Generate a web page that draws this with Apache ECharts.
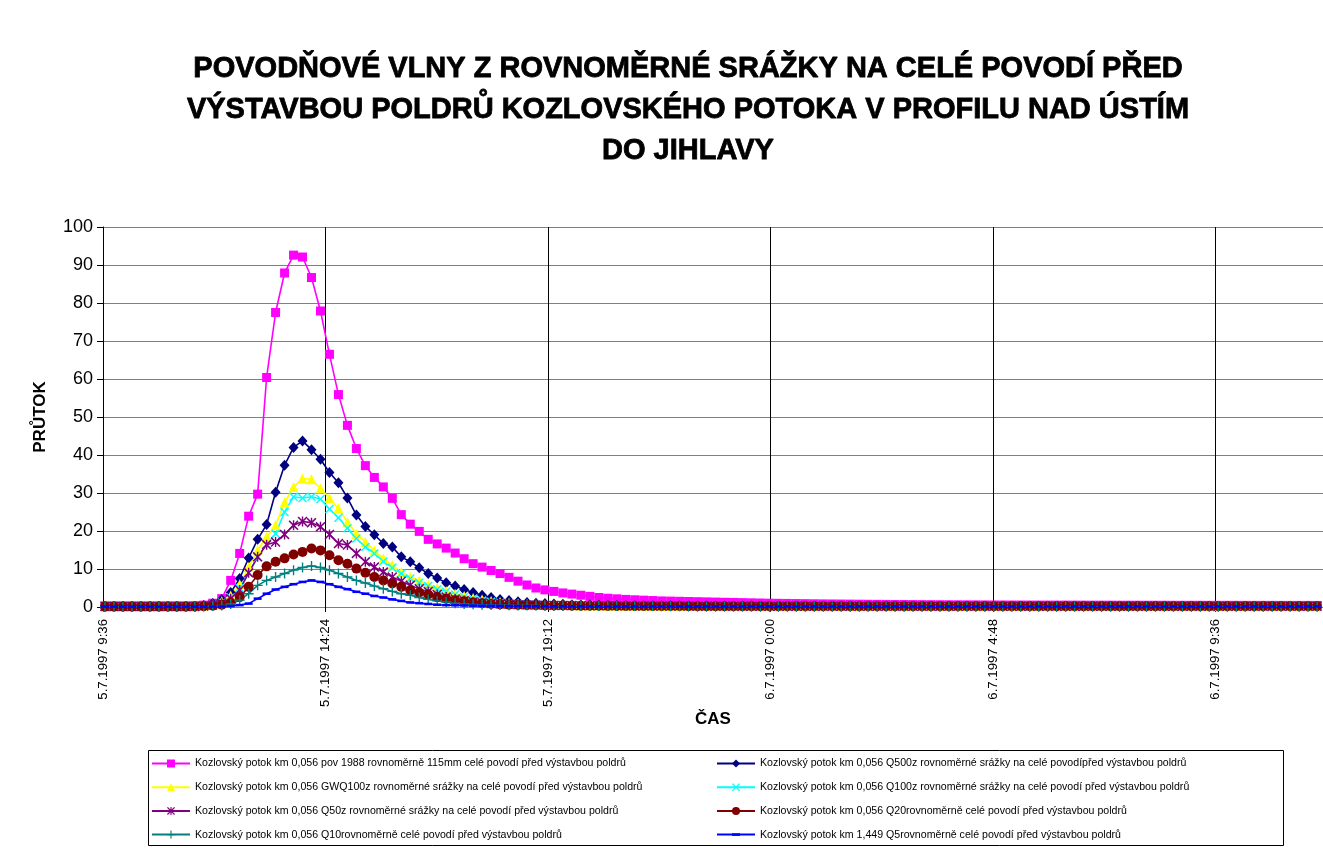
<!DOCTYPE html>
<html>
<head>
<meta charset="utf-8">
<title>Povodňové vlny</title>
<script src="https://cdn.jsdelivr.net/npm/echarts@6/dist/echarts.min.js"></script>
<style>
html, body { margin: 0; padding: 0; background: #fff; }
#chart { width: 1323px; height: 848px; }
</style>
</head>
<body>
<div id="chart"></div>
<script>
// čas v minutách od 5.7.1997 0:00, krok měření
var startMin = 578.6;
var stepMin = 11.62;

var axisMin = 576;     // 5.7.1997 9:36
var axisStep = 288;    // 4:48
var axisMax = 2155;

var names = [
	'Kozlovský potok km 0,056 pov 1988 rovnoměrně 115mm celé povodí před výstavbou poldrů',
	'Kozlovský potok km 0,056 Q500z rovnoměrné srážky na celé povodípřed výstavbou poldrů',
	'Kozlovský potok km 0,056 GWQ100z rovnoměrné srážky na celé povodí před výstavbou poldrů',
	'Kozlovský potok km 0,056 Q100z rovnoměrné srážky na celé povodí před výstavbou poldrů',
	'Kozlovský potok km 0,056 Q50z rovnoměrné srážky na celé povodí před výstavbou poldrů',
	'Kozlovský potok km 0,056 Q20rovnoměrně celé povodí před výstavbou poldrů',
	'Kozlovský potok km 0,056 Q10rovnoměrně celé povodí před výstavbou poldrů',
	'Kozlovský potok km 1,449 Q5rovnoměrně celé povodí před výstavbou poldrů'
];

var pov1988 = [
	0.3,0.3,0.3,0.3,0.3,0.3,0.3,0.3,0.3,0.3,
	0.35,0.5,1.0,2.2,7.0,14.1,23.9,29.7,60.4,77.5,
	87.9,92.6,92.1,86.7,77.9,66.5,55.9,47.8,41.7,37.2,
	34.1,31.6,28.6,24.3,21.8,19.9,17.8,16.6,15.5,14.2,
	12.7,11.4,10.5,9.6,8.8,7.8,6.8,5.8,5.0,4.5,
	4.1,3.7,3.4,3.1,2.8,2.5,2.3,2.15,2.0,1.9,
	1.8,1.7,1.6,1.55,1.5,1.45,1.4,1.35,1.3,1.25,
	1.2,1.15,1.1,1.05,1.0,0.97,0.94,0.91,0.88,0.85,
	0.82,0.8,0.78,0.76,0.74,0.72,0.7,0.68,0.66,0.65,
	0.64,0.62,0.61,0.6,0.59,0.58,0.57,0.56,0.55,0.54,
	0.53,0.52,0.52,0.51,0.51,0.5,0.5,0.5,0.49,0.49,
	0.48,0.48,0.48,0.47,0.47,0.47,0.46,0.46,0.46,0.45,
	0.45,0.45,0.45,0.44,0.44,0.44,0.44,0.43,0.43,0.43,
	0.43,0.42,0.42,0.42,0.42,0.41
];
var q500 = [
	0.1,0.1,0.1,0.1,0.1,0.1,0.1,0.1,0.1,0.1,
	0.15,0.4,0.9,2.0,3.8,7.5,12.9,17.8,21.7,30.2,
	37.3,42.0,43.7,41.4,38.9,35.4,32.7,28.7,24.2,21.2,
	19.0,16.7,15.8,13.2,11.9,10.3,8.8,7.6,6.4,5.5,
	4.6,3.8,3.1,2.5,2.0,1.7,1.4,1.2,1.0,0.9,
	0.8,0.7,0.6,0.55,0.5,0.45,0.42,0.4,0.38,0.36,
	0.34,0.33,0.32,0.31,0.3,0.29,0.28,0.27,0.26,0.25,
	0.25,0.24,0.24,0.23,0.23,0.22,0.22,0.21,0.21,0.2,
	0.2,0.2,0.2,0.2,0.2,0.2,0.2,0.2,0.2,0.2,
	0.2,0.2,0.2,0.2,0.2,0.2,0.2,0.2,0.2,0.2,
	0.2,0.2,0.2,0.2,0.2,0.2,0.2,0.2,0.2,0.2,
	0.2,0.2,0.2,0.2,0.2,0.2,0.2,0.2,0.2,0.2,
	0.2,0.2,0.2,0.2,0.2,0.2,0.2,0.2,0.2,0.2,
	0.2,0.2,0.2,0.2,0.2,0.2
];
var gwq100 = [
	0.1,0.1,0.1,0.1,0.1,0.1,0.1,0.1,0.1,0.1,
	0.12,0.3,0.7,1.5,3.0,6.0,10.5,15.0,18.4,21.5,
	27.5,31.6,33.8,33.6,31.2,28.7,25.9,22.4,19.3,17.1,
	14.9,12.8,11.0,9.2,7.9,6.9,5.9,5.0,4.2,3.5,
	2.9,2.4,2.0,1.6,1.3,1.1,0.9,0.8,0.7,0.6,
	0.55,0.5,0.45,0.42,0.4,0.38,0.36,0.34,0.32,0.31,
	0.3,0.29,0.28,0.27,0.26,0.25,0.25,0.24,0.24,0.23,
	0.23,0.22,0.22,0.21,0.21,0.2,0.2,0.2,0.2,0.2,
	0.2,0.2,0.2,0.2,0.2,0.2,0.2,0.2,0.2,0.2,
	0.2,0.2,0.2,0.2,0.2,0.2,0.2,0.2,0.2,0.2,
	0.2,0.2,0.2,0.2,0.2,0.2,0.2,0.2,0.2,0.2,
	0.2,0.2,0.2,0.2,0.2,0.2,0.2,0.2,0.2,0.2,
	0.2,0.2,0.2,0.2,0.2,0.2,0.2,0.2,0.2,0.2,
	0.2,0.2,0.2,0.2,0.2,0.2
];
var q100 = [
	0.1,0.1,0.1,0.1,0.1,0.1,0.1,0.1,0.1,0.1,
	0.12,0.3,0.6,1.2,2.5,5.0,9.0,13.0,16.5,19.3,
	25.0,29.0,28.7,29.0,28.4,25.8,23.5,20.7,18.0,15.8,
	14.1,12.0,10.3,8.8,7.5,6.4,5.5,4.7,4.0,3.3,
	2.6,2.1,1.7,1.4,1.1,0.9,0.8,0.7,0.6,0.55,
	0.5,0.45,0.42,0.4,0.38,0.36,0.34,0.32,0.31,0.3,
	0.29,0.28,0.27,0.26,0.25,0.25,0.24,0.24,0.23,0.23,
	0.22,0.22,0.21,0.21,0.2,0.2,0.2,0.2,0.2,0.2,
	0.2,0.2,0.2,0.2,0.2,0.2,0.2,0.2,0.2,0.2,
	0.2,0.2,0.2,0.2,0.2,0.2,0.2,0.2,0.2,0.2,
	0.2,0.2,0.2,0.2,0.2,0.2,0.2,0.2,0.2,0.2,
	0.2,0.2,0.2,0.2,0.2,0.2,0.2,0.2,0.2,0.2,
	0.2,0.2,0.2,0.2,0.2,0.2,0.2,0.2,0.2,0.2,
	0.2,0.2,0.2,0.2,0.2,0.2
];
var q50 = [
	0.1,0.1,0.1,0.1,0.1,0.1,0.1,0.1,0.1,0.1,
	0.12,0.25,0.5,1.0,2.2,4.5,9.0,13.2,16.4,17.1,
	19.1,21.5,22.5,22.2,21.1,19.1,16.7,16.3,14.1,11.9,
	10.5,9.2,7.9,6.8,5.7,4.8,4.1,3.3,2.6,2.1,
	1.7,1.4,1.1,0.9,0.8,0.7,0.6,0.55,0.5,0.45,
	0.42,0.4,0.38,0.36,0.34,0.32,0.31,0.3,0.29,0.28,
	0.27,0.26,0.25,0.25,0.24,0.24,0.23,0.23,0.22,0.22,
	0.21,0.21,0.2,0.2,0.2,0.2,0.2,0.2,0.2,0.2,
	0.2,0.2,0.2,0.2,0.2,0.2,0.2,0.2,0.2,0.2,
	0.2,0.2,0.2,0.2,0.2,0.2,0.2,0.2,0.2,0.2,
	0.2,0.2,0.2,0.2,0.2,0.2,0.2,0.2,0.2,0.2,
	0.2,0.2,0.2,0.2,0.2,0.2,0.2,0.2,0.2,0.2,
	0.2,0.2,0.2,0.2,0.2,0.2,0.2,0.2,0.2,0.2,
	0.2,0.2,0.2,0.2,0.2,0.2
];
var q20 = [
	0.1,0.1,0.1,0.1,0.1,0.1,0.1,0.1,0.1,0.1,
	0.12,0.2,0.35,0.6,1.2,2.6,5.3,8.4,10.7,11.9,
	12.8,13.8,14.5,15.4,14.9,13.6,12.3,11.4,10.1,9.0,
	7.9,7.0,6.2,5.3,4.4,3.8,3.3,2.6,2.2,1.8,
	1.5,1.2,1.0,0.8,0.7,0.6,0.55,0.5,0.45,0.42,
	0.4,0.38,0.36,0.34,0.32,0.31,0.3,0.29,0.28,0.27,
	0.26,0.25,0.25,0.24,0.24,0.23,0.23,0.22,0.22,0.21,
	0.21,0.2,0.2,0.2,0.2,0.2,0.2,0.2,0.2,0.2,
	0.2,0.2,0.2,0.2,0.2,0.2,0.2,0.2,0.2,0.2,
	0.2,0.2,0.2,0.2,0.2,0.2,0.2,0.2,0.2,0.2,
	0.2,0.2,0.2,0.2,0.2,0.2,0.2,0.2,0.2,0.2,
	0.2,0.2,0.2,0.2,0.2,0.2,0.2,0.2,0.2,0.2,
	0.2,0.2,0.2,0.2,0.2,0.2,0.2,0.2,0.2,0.2,
	0.2,0.2,0.2,0.2,0.2,0.2
];
var q10 = [
	0.1,0.1,0.1,0.1,0.1,0.1,0.1,0.1,0.1,0.1,
	0.1,0.15,0.25,0.4,0.8,1.8,3.5,5.7,7.0,7.9,
	8.8,9.7,10.4,10.8,10.4,9.7,8.8,7.9,7.0,6.3,
	5.5,4.8,4.1,3.5,3.1,2.5,2.0,1.6,1.3,1.0,
	0.8,0.7,0.6,0.55,0.5,0.45,0.42,0.4,0.38,0.36,
	0.34,0.32,0.31,0.3,0.29,0.28,0.27,0.26,0.25,0.25,
	0.24,0.24,0.23,0.23,0.22,0.22,0.21,0.21,0.2,0.2,
	0.2,0.2,0.2,0.2,0.2,0.2,0.2,0.2,0.2,0.2,
	0.2,0.2,0.2,0.2,0.2,0.2,0.2,0.2,0.2,0.2,
	0.2,0.2,0.2,0.2,0.2,0.2,0.2,0.2,0.2,0.2,
	0.2,0.2,0.2,0.2,0.2,0.2,0.2,0.2,0.2,0.2,
	0.2,0.2,0.2,0.2,0.2,0.2,0.2,0.2,0.2,0.2,
	0.2,0.2,0.2,0.2,0.2,0.2,0.2,0.2,0.2,0.2,
	0.2,0.2,0.2,0.2,0.2,0.2
];
var q5 = [
	0.1,0.1,0.1,0.1,0.1,0.1,0.1,0.1,0.1,0.1,
	0.1,0.1,0.12,0.15,0.25,0.5,0.9,2.2,3.5,4.6,
	5.3,6.0,6.6,7.0,6.6,6.0,5.3,4.7,4.0,3.5,
	2.9,2.5,2.0,1.6,1.2,1.0,0.8,0.6,0.5,0.45,
	0.4,0.36,0.33,0.3,0.28,0.26,0.24,0.22,0.2,0.2,
	0.18,0.18,0.17,0.17,0.16,0.16,0.15,0.15,0.15,0.15,
	0.15,0.15,0.15,0.15,0.15,0.15,0.15,0.15,0.15,0.15,
	0.15,0.15,0.15,0.15,0.15,0.15,0.15,0.15,0.15,0.15,
	0.15,0.15,0.15,0.15,0.15,0.15,0.15,0.15,0.15,0.15,
	0.15,0.15,0.15,0.15,0.15,0.15,0.15,0.15,0.15,0.15,
	0.15,0.15,0.15,0.15,0.15,0.15,0.15,0.15,0.15,0.15,
	0.15,0.15,0.15,0.15,0.15,0.15,0.15,0.15,0.15,0.15,
	0.15,0.15,0.15,0.15,0.15,0.15,0.15,0.15,0.15,0.15,
	0.15,0.15,0.15,0.15,0.15,0.15
];

var colors = ['#FF00FF', '#000080', '#FFFF00', '#00FFFF', '#800080', '#800000', '#008080', '#0000FF'];

// značky (Excel styl)
var xPath = 'path://M0,1.1 L1.1,0 L5,3.9 L8.9,0 L10,1.1 L6.1,5 L10,8.9 L8.9,10 L5,6.1 L1.1,10 L0,8.9 L3.9,5 Z';
var starPath = xPath + ' M4.3,0 L5.7,0 L5.7,10 L4.3,10 Z';
var plusPath = 'path://M4.3,0 H5.7 V4.3 H10 V5.7 H5.7 V10 H4.3 V5.7 H0 V4.3 H4.3 Z';
// krátká čárka uvnitř čtvercového rámce (aby zůstala čárkou i v legendě)
var dashPath = 'path://M0,0 L0,0 M0,3.4 H10 V6.6 H0 Z M10,10 L10,10';
var symbols = ['rect', 'diamond', 'triangle', xPath, starPath, 'circle', plusPath, dashPath];
var symbolSizes = [9, [10, 11], 10, 9, 10, 10, 10, 8];

var allValues = [pov1988, q500, gwq100, q100, q50, q20, q10, q5];

function pad(n) { return n < 10 ? '0' + n : '' + n; }
function fmtTime(v) {
	var d = Math.floor(v / 1440);
	var m = Math.round(v - d * 1440);
	return (5 + d) + '.7.1997 ' + Math.floor(m / 60) + ':' + pad(m % 60);
}

var series = [];
for (var s = 0; s < allValues.length; s++) {
	var pts = [];
	for (var i = 0; i < allValues[s].length; i++) {
		pts.push([startMin + i * stepMin, allValues[s][i]]);
	}
	series.push({
		name: names[s],
		type: 'line',
		data: pts,
		symbol: symbols[s],
		symbolSize: symbolSizes[s],
		showAllSymbol: true,
		lineStyle: { color: colors[s], width: 1.6 },
		itemStyle: { color: colors[s] },
		emphasis: { disabled: true }
	});
}

var legendText = { fontSize: 10.6, color: '#000', fontFamily: 'Liberation Sans, Arial, sans-serif' };

var myChart = echarts.init(document.getElementById('chart'));
var option = {
	animation: false,
	backgroundColor: '#fff',
	textStyle: { fontFamily: 'Liberation Sans, Arial, sans-serif' },
	title: {
		text: 'POVODŇOVÉ VLNY Z ROVNOMĚRNÉ SRÁŽKY NA CELÉ POVODÍ PŘED\nVÝSTAVBOU POLDRŮ KOZLOVSKÉHO POTOKA V PROFILU NAD ÚSTÍM\nDO JIHLAVY',
		left: 683,
		top: 43,
		textAlign: 'center',
		textStyle: {
			fontFamily: 'Liberation Sans, Arial, sans-serif',
			fontWeight: 'bold',
			fontSize: 29,
			lineHeight: 41,
			color: '#000',
			textBorderColor: '#000',
			textBorderWidth: 0.8
		}
	},
	legend: [
		{
			orient: 'vertical',
			left: 151,
			top: 758,
			height: 100,
			itemGap: 12.7,
			itemWidth: 38,
			itemHeight: 10,
			padding: 0,
			data: [names[0], names[2], names[4], names[6]],
			textStyle: legendText
		},
		{
			orient: 'vertical',
			left: 716,
			top: 758,
			height: 100,
			itemGap: 12.7,
			itemWidth: 38,
			itemHeight: 10,
			padding: 0,
			data: [names[1], names[3], names[5], names[7]],
			textStyle: legendText
		}
	],
	graphic: [{
		type: 'rect',
		shape: { x: 148.5, y: 750.5, width: 1135, height: 95 },
		style: { fill: 'none', stroke: '#000', lineWidth: 1 },
		z: 0
	}],
	grid: {
		left: 103,
		right: 0,
		top: 227,
		bottom: 241,
		containLabel: false,
		outerBoundsMode: 'none'
	},
	xAxis: {
		type: 'value',
		min: axisMin,
		max: axisMax,
		interval: axisStep,
		name: 'ČAS',
		nameLocation: 'middle',
		nameGap: 104,
		nameTextStyle: { fontWeight: 'bold', fontSize: 17, color: '#000' },
		axisLine: { show: true, onZero: false, lineStyle: { color: '#808080', width: 1 } },
		axisTick: { show: true, length: 5, lineStyle: { color: '#000' } },
		axisLabel: {
			rotate: 90,
			fontSize: 13.2,
			color: '#000',
			margin: 12,
			showMaxLabel: false,
			formatter: fmtTime
		},
		splitLine: { show: true, lineStyle: { color: '#000', width: 1 } }
	},
	yAxis: {
		type: 'value',
		min: 0,
		max: 100,
		interval: 10,
		name: 'PRŮTOK',
		nameLocation: 'middle',
		nameRotate: 90,
		nameGap: 54,
		nameTextStyle: { fontWeight: 'bold', fontSize: 17, color: '#000' },
		axisLine: { show: true, lineStyle: { color: '#000', width: 1 } },
		axisTick: { show: true, length: 6, lineStyle: { color: '#000' } },
		axisLabel: { fontSize: 18, color: '#000', margin: 10 },
		splitLine: { show: true, lineStyle: { color: '#808080', width: 1 } }
	},
	series: series
};
myChart.setOption(option);
</script>
</body>
</html>
